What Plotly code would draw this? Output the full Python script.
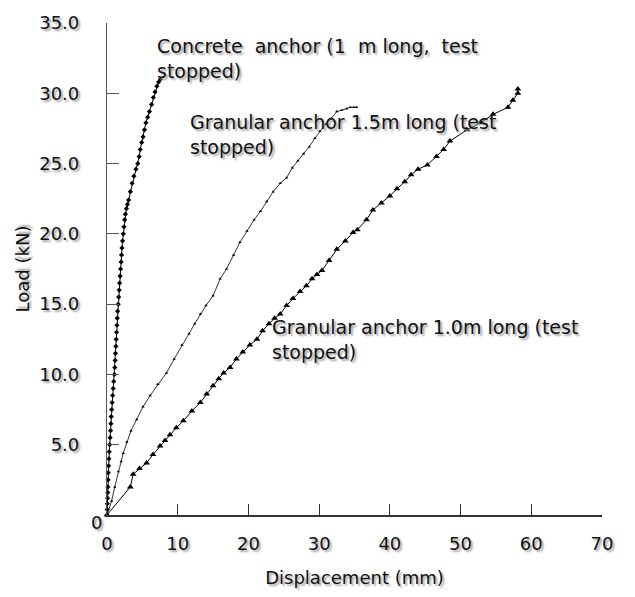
import plotly.graph_objects as go

# Load-displacement readings for three anchor tests
concrete_disp = [0, 0.02, 0.05, 0.08, 0.10, 0.12, 0.15, 0.18, 0.22, 0.27, 0.32, 0.38, 0.44, 0.50,
                 0.55, 0.60, 0.66, 0.72, 0.80, 0.88, 0.95, 1.05, 1.10, 1.15, 1.20, 1.25, 1.30, 1.35,
                 1.40, 1.45, 1.50, 1.58, 1.65, 1.72, 1.78, 1.85, 1.92, 2.00, 2.05, 2.12, 2.20, 2.30,
                 2.40, 2.50, 2.60, 2.75, 2.90, 3.05, 3.30, 3.55, 3.80, 4.10, 4.35, 4.55, 4.70, 4.90,
                 5.10, 5.30, 5.50, 5.75, 6.00, 6.30, 6.55, 6.80, 7.05, 7.30, 7.55]
concrete_load = [0, 0.4, 0.8, 1.2, 1.6, 2.0, 2.5, 3.0, 3.5, 4.0, 4.5, 5.0, 5.5, 6.0,
                 6.5, 7.0, 7.5, 8.0, 8.5, 9.0, 9.5, 10.0, 10.5, 11.0, 11.5, 12.0, 12.5, 13.0,
                 13.5, 14.0, 14.5, 15.0, 15.5, 16.0, 16.5, 17.0, 17.5, 18.0, 18.5, 19.0, 19.5, 20.0,
                 20.5, 21.0, 21.4, 21.8, 22.1, 22.4, 23.0, 23.6, 24.1, 24.6, 25.0, 25.5, 26.0, 26.5,
                 26.9, 27.4, 27.9, 28.3, 28.7, 29.2, 29.7, 30.1, 30.5, 30.8, 31.0]

gran15_disp = [0, 0.66, 1.1, 1.6, 2.0, 2.3, 2.8, 3.4, 4.2, 5.1, 6.1, 7.2, 8.4, 9.5, 10.6,
               11.6, 12.4, 13.2, 14.0, 15.0, 16.0, 16.9, 17.9, 18.8, 19.8, 20.8, 21.7, 22.6,
               23.5, 24.5, 25.4, 26.2, 27.0, 27.8, 28.6, 29.4, 30.1, 30.9, 31.7, 32.5, 33.2,
               33.9, 34.4, 34.9, 35.3]
gran15_load = [0, 1.0, 2.0, 3.1, 3.8, 4.4, 5.2, 6.0, 6.8, 7.7, 8.5, 9.3, 10.1, 11.1, 12.1,
               12.9, 13.6, 14.3, 14.9, 15.6, 16.8, 17.5, 18.5, 19.4, 20.2, 21.0, 21.6, 22.3,
               23.0, 23.6, 24.0, 24.7, 25.2, 25.7, 26.2, 26.8, 27.3, 27.8, 28.2, 28.7, 28.8,
               28.9, 29.0, 29.0, 29.0]

gran10_disp = [0, 3.3, 3.7, 4.6, 5.6, 6.5, 7.5, 8.2, 8.9, 9.8, 10.8, 12.0, 13.2, 14.1, 15.0,
               15.8, 16.5, 17.4, 18.3, 19.2, 20.2, 21.2, 22.0, 22.9, 23.7, 24.5, 25.4, 26.3,
               27.3, 28.2, 29.0, 29.7, 30.4, 31.4, 32.5, 33.7, 34.8, 35.4, 36.7, 37.6, 38.8,
               40.0, 41.0, 42.1, 43.0, 44.0, 45.3, 46.6, 47.6, 48.5, 50.9, 52.8, 54.6, 56.7,
               57.4, 58.1, 58.1]
gran10_load = [0, 2.0, 2.9, 3.3, 3.7, 4.3, 4.9, 5.3, 5.7, 6.2, 6.7, 7.4, 8.0, 8.6, 9.2,
               9.7, 10.1, 10.5, 11.1, 11.6, 12.1, 12.5, 13.1, 13.6, 14.0, 14.3, 14.9, 15.4,
               15.9, 16.3, 16.8, 17.1, 17.4, 18.1, 18.9, 19.5, 20.1, 20.3, 21.0, 21.7, 22.2,
               22.7, 23.2, 23.7, 24.2, 24.6, 24.9, 25.5, 26.0, 26.6, 27.4, 27.9, 28.5, 29.0,
               29.5, 30.0, 30.3]

x_ticks = [0, 10, 20, 30, 40, 50, 60, 70]
y_ticks = [0, 5, 10, 15, 20, 25, 30, 35]
y_tick_text = ["", "5.0", "10.0", "15.0", "20.0", "25.0", "30.0", "35.0"]

FONT = "DejaVu Sans"
SHADOW = "2px 2px 2px #a0a0a0"
INK = "#111111"

fig = go.Figure()

fig.add_trace(go.Scatter(
    x=concrete_disp, y=concrete_load, mode="lines+markers",
    line=dict(color="black", width=1),
    marker=dict(symbol="diamond", size=4, color="black"),
    cliponaxis=False, showlegend=False))

fig.add_trace(go.Scatter(
    x=gran15_disp, y=gran15_load, mode="lines+markers",
    line=dict(color="black", width=0.8),
    marker=dict(symbol="triangle-up", size=3, color="black"),
    cliponaxis=False, showlegend=False))

fig.add_trace(go.Scatter(
    x=gran10_disp, y=gran10_load, mode="lines+markers",
    line=dict(color="black", width=1),
    marker=dict(symbol="triangle-up", size=6, color="black"),
    cliponaxis=False, showlegend=False))

label_font = dict(family=FONT, size=19, color=INK, shadow=SHADOW)
notes = [
    ("Concrete  anchor (1  m long,  test<br>stopped)", 6.8, 32.5),
    ("Granular anchor 1.5m long (test<br>stopped)", 11.4, 27.1),
    ("Granular anchor 1.0m long (test<br>stopped)", 23.0, 12.5),
]
for text, xv, yv in notes:
    fig.add_annotation(x=xv, y=yv, xref="x", yref="y", text=text, showarrow=False,
                       xanchor="left", yanchor="middle", align="left", font=label_font)

# Origin label on the load axis
fig.add_annotation(x=0, y=0, xref="paper", yref="paper", text="0", showarrow=False,
                   xanchor="right", yanchor="middle", xshift=-3, yshift=-7,
                   font=dict(family=FONT, size=18, color=INK, shadow=SHADOW))

tick_font = dict(family=FONT, size=18, color=INK, shadow=SHADOW)

fig.update_xaxes(
    range=[0, 70], tickvals=x_ticks, ticks="inside", ticklen=11, tickcolor="#333333",
    tickwidth=1, showline=True, linecolor="#333333", linewidth=1.5, showgrid=False,
    zeroline=False, tickfont=tick_font, ticklabelstandoff=12,
    title=dict(text="Displacement (mm)", font=dict(family=FONT, size=18, color=INK, shadow=SHADOW),
               standoff=18))
fig.update_yaxes(
    range=[0, 35], tickvals=y_ticks, ticktext=y_tick_text, ticks="inside", ticklen=12,
    tickcolor="#555555", tickwidth=1, showline=True, linecolor="#555555", linewidth=1.2,
    showgrid=False, zeroline=False, tickfont=tick_font, ticklabelstandoff=23,
    title=dict(text="Load (kN)", font=dict(family=FONT, size=18, color=INK, shadow=SHADOW),
               standoff=4))

fig.update_layout(
    width=635, height=597,
    margin=dict(l=107, r=33, t=16, b=79),
    paper_bgcolor="white", plot_bgcolor="white",
    font=dict(family=FONT, color=INK),
)

fig.write_html("out.html")
